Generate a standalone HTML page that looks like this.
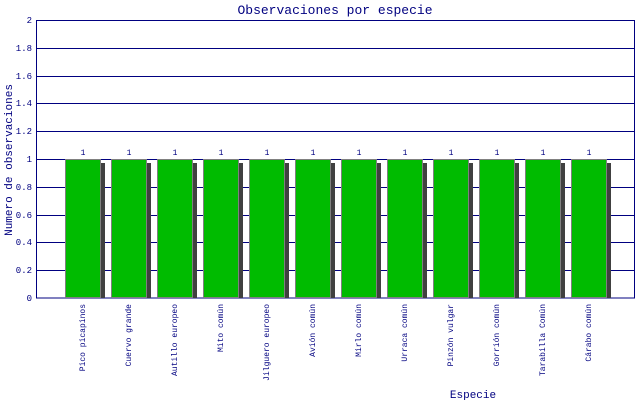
<!DOCTYPE html><html><head><style>body{margin:0;background:#fff}svg{display:block}text{font-family:"Liberation Mono",monospace;fill:#000080}</style></head><body>
<svg width="640" height="400" xmlns="http://www.w3.org/2000/svg">
<text x="335" y="14" font-size="13" text-anchor="middle">Observaciones por especie</text>
<g stroke="#000080" stroke-width="1">
<line x1="36" x2="634" y1="20.5" y2="20.5"/><line x1="36" x2="634" y1="48.5" y2="48.5"/><line x1="36" x2="634" y1="76.5" y2="76.5"/><line x1="36" x2="634" y1="103.5" y2="103.5"/><line x1="36" x2="634" y1="131.5" y2="131.5"/><line x1="36" x2="634" y1="159.5" y2="159.5"/><line x1="36" x2="634" y1="187.5" y2="187.5"/><line x1="36" x2="634" y1="215.5" y2="215.5"/><line x1="36" x2="634" y1="242.5" y2="242.5"/><line x1="36" x2="634" y1="270.5" y2="270.5"/>
<rect x="36.5" y="20.5" width="598" height="277.5" fill="none"/>
</g>
<g font-size="9" text-anchor="end">
<text x="32" y="23">2</text><text x="32" y="51">1.8</text><text x="32" y="79">1.6</text><text x="32" y="106">1.4</text><text x="32" y="134">1.2</text><text x="32" y="162">1</text><text x="32" y="190">0.8</text><text x="32" y="218">0.6</text><text x="32" y="245">0.4</text><text x="32" y="273">0.2</text><text x="32" y="301">0</text>
</g>
<text transform="translate(12,160) rotate(-90)" font-size="11" text-anchor="middle">Numero de observaciones</text>
<text x="473" y="398" font-size="11" text-anchor="middle">Especie</text>
<g fill="#404040">
<rect x="101" y="163" width="4" height="135"/><rect x="147" y="163" width="4" height="135"/><rect x="193" y="163" width="4" height="135"/><rect x="239" y="163" width="4" height="135"/><rect x="285" y="163" width="4" height="135"/><rect x="331" y="163" width="4" height="135"/><rect x="377" y="163" width="4" height="135"/><rect x="423" y="163" width="4" height="135"/><rect x="469" y="163" width="4" height="135"/><rect x="515" y="163" width="4" height="135"/><rect x="561" y="163" width="4" height="135"/><rect x="607" y="163" width="4" height="135"/>
</g>
<g fill="#00bb00" stroke="#808080">
<rect x="65.5" y="159.5" width="35" height="138"/><rect x="111.5" y="159.5" width="35" height="138"/><rect x="157.5" y="159.5" width="35" height="138"/><rect x="203.5" y="159.5" width="35" height="138"/><rect x="249.5" y="159.5" width="35" height="138"/><rect x="295.5" y="159.5" width="35" height="138"/><rect x="341.5" y="159.5" width="35" height="138"/><rect x="387.5" y="159.5" width="35" height="138"/><rect x="433.5" y="159.5" width="35" height="138"/><rect x="479.5" y="159.5" width="35" height="138"/><rect x="525.5" y="159.5" width="35" height="138"/><rect x="571.5" y="159.5" width="35" height="138"/>
</g>
<g font-size="8" text-anchor="middle">
<text x="83" y="155">1</text><text x="129" y="155">1</text><text x="175" y="155">1</text><text x="221" y="155">1</text><text x="267" y="155">1</text><text x="313" y="155">1</text><text x="359" y="155">1</text><text x="405" y="155">1</text><text x="451" y="155">1</text><text x="497" y="155">1</text><text x="543" y="155">1</text><text x="589" y="155">1</text>
</g>
<g font-size="8" text-anchor="end">
<text transform="translate(85,304) rotate(-90)">Pico picapinos</text>
<text transform="translate(131,304) rotate(-90)">Cuervo grande</text>
<text transform="translate(177,304) rotate(-90)">Autillo europeo</text>
<text transform="translate(223,304) rotate(-90)">Mito común</text>
<text transform="translate(269,304) rotate(-90)">Jilguero europeo</text>
<text transform="translate(315,304) rotate(-90)">Avión común</text>
<text transform="translate(361,304) rotate(-90)">Mirlo común</text>
<text transform="translate(407,304) rotate(-90)">Urraca común</text>
<text transform="translate(453,304) rotate(-90)">Pinzón vulgar</text>
<text transform="translate(499,304) rotate(-90)">Gorrión común</text>
<text transform="translate(545,304) rotate(-90)">Tarabilla Común</text>
<text transform="translate(591,304) rotate(-90)">Cárabo común</text>
</g>
</svg></body></html>
